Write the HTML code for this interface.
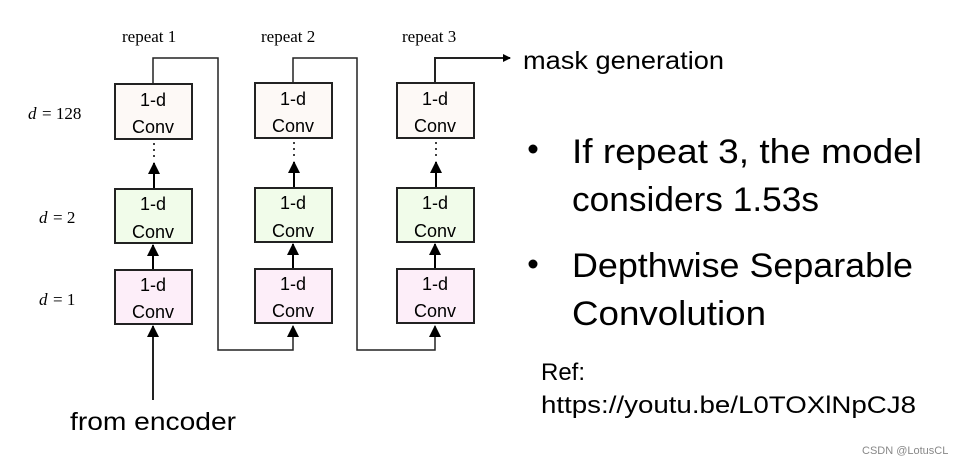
<!DOCTYPE html>
<html><head><meta charset="utf-8"><style>html,body{margin:0;padding:0;background:#fff}svg{display:block}</style></head>
<body>
<svg width="971" height="465" viewBox="0 0 971 465" xmlns="http://www.w3.org/2000/svg">
<defs><marker id="a" markerWidth="8" markerHeight="8" refX="7" refY="4" orient="auto" markerUnits="userSpaceOnUse"><path d="M0,0 L8,4 L0,8 z" fill="#000"/></marker>
<marker id="b" markerWidth="12" markerHeight="12" refX="11" refY="6" orient="auto" markerUnits="userSpaceOnUse"><path d="M0,0 L12,6 L0,12 z" fill="#000"/></marker></defs>
<g font-family="Liberation Serif, serif" font-size="17" fill="#000">
<text x="122" y="42">repeat 1</text><text x="261" y="42">repeat 2</text><text x="402" y="42">repeat 3</text>
<text x="28" y="119" font-style="italic">d</text><text x="42" y="119">= 128</text>
<text x="39" y="223" font-style="italic">d</text><text x="53" y="223">= 2</text>
<text x="39" y="305" font-style="italic">d</text><text x="53" y="305">= 1</text>
</g>
<g stroke="#222" stroke-width="1.5" fill="none">
<polyline points="153,84 153,58 218,58 218,350 293,350 293,326" marker-end="url(#b)"/>
<polyline points="293,83 293,58 357,58 357,350 435,350 435,326" marker-end="url(#b)"/>
<polyline points="435,83 435,58 510,58" stroke-width="2" marker-end="url(#a)"/>
<line x1="153" y1="400" x2="153" y2="326" stroke-width="2" marker-end="url(#b)"/>
</g>
<g stroke="#000" stroke-width="2">
<line x1="153" y1="270" x2="153" y2="245" marker-end="url(#b)"/>
<line x1="293" y1="269" x2="293" y2="244" marker-end="url(#b)"/>
<line x1="435" y1="269" x2="435" y2="244" marker-end="url(#b)"/>
<line x1="154" y1="189" x2="154" y2="163" marker-end="url(#b)"/>
<line x1="294" y1="188" x2="294" y2="162" marker-end="url(#b)"/>
<line x1="436" y1="188" x2="436" y2="162" marker-end="url(#b)"/>
</g>
<g stroke="#000" stroke-width="1.5" stroke-dasharray="2,4">
<line x1="154" y1="143" x2="154" y2="160"/><line x1="294" y1="142" x2="294" y2="159"/><line x1="436" y1="142" x2="436" y2="159"/>
</g>
<g stroke="#222" stroke-width="2">
<rect x="115" y="84" width="77" height="55" fill="#fdf9f6"/>
<rect x="115" y="189" width="77" height="54" fill="#f1fcea"/>
<rect x="115" y="270" width="77" height="54" fill="#fdeef9"/>
<rect x="255" y="83" width="77" height="55" fill="#fdf9f6"/>
<rect x="255" y="188" width="77" height="54" fill="#f1fcea"/>
<rect x="255" y="269" width="77" height="54" fill="#fdeef9"/>
<rect x="397" y="83" width="77" height="55" fill="#fdf9f6"/>
<rect x="397" y="188" width="77" height="54" fill="#f1fcea"/>
<rect x="397" y="269" width="77" height="54" fill="#fdeef9"/>
</g>
<g font-family="Liberation Sans, sans-serif" font-size="18" fill="#000" text-anchor="middle">
<text x="153" y="106">1-d</text><text x="153" y="133">Conv</text>
<text x="153" y="210">1-d</text><text x="153" y="238">Conv</text>
<text x="153" y="291">1-d</text><text x="153" y="318">Conv</text>
<text x="293" y="105">1-d</text><text x="293" y="132">Conv</text>
<text x="293" y="209">1-d</text><text x="293" y="237">Conv</text>
<text x="293" y="290">1-d</text><text x="293" y="317">Conv</text>
<text x="435" y="105">1-d</text><text x="435" y="132">Conv</text>
<text x="435" y="209">1-d</text><text x="435" y="237">Conv</text>
<text x="435" y="290">1-d</text><text x="435" y="317">Conv</text>
</g>
<g font-family="Liberation Sans, sans-serif" fill="#000">
<text x="523" y="69" font-size="25" textLength="201" lengthAdjust="spacingAndGlyphs">mask generation</text>
<text x="70" y="430" font-size="25" textLength="166" lengthAdjust="spacingAndGlyphs">from encoder</text>
<circle cx="533" cy="149" r="4.5"/><circle cx="533" cy="264" r="4.5"/>
<text x="572" y="163" font-size="34" textLength="350" lengthAdjust="spacingAndGlyphs">If repeat 3, the model</text>
<text x="572" y="211" font-size="34" textLength="247" lengthAdjust="spacingAndGlyphs">considers 1.53s</text>
<text x="572" y="277" font-size="34" textLength="341" lengthAdjust="spacingAndGlyphs">Depthwise Separable</text>
<text x="572" y="325" font-size="34" textLength="194" lengthAdjust="spacingAndGlyphs">Convolution</text>
<text x="541" y="380" font-size="24">Ref:</text>
<text x="541" y="413" font-size="24" textLength="375" lengthAdjust="spacingAndGlyphs">https://youtu.be/L0TOXlNpCJ8</text>
<text x="862" y="454" font-size="11" fill="#888">CSDN @LotusCL</text>
</g>
</svg>
</body></html>
